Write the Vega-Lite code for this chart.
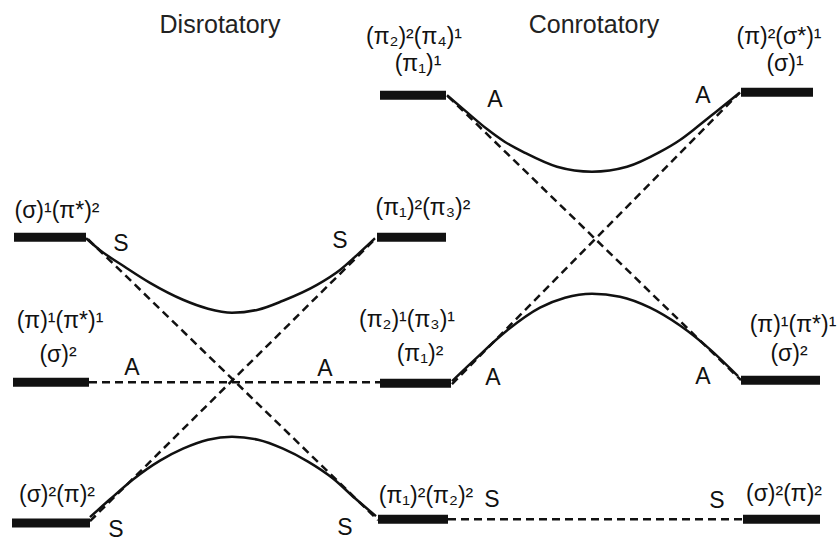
{
  "$schema": "https://vega.github.io/schema/vega-lite/v6.json",
  "width": 839,
  "height": 542,
  "autosize": {"type": "fit", "contains": "padding"},
  "padding": 0,
  "background": "white",
  "config": {"view": {"stroke": null}},
  "datasets": {
    "bars": [
      {"x": 14, "x2": 86, "y": 239},
      {"x": 13, "x2": 89, "y": 385},
      {"x": 12, "x2": 90, "y": 527},
      {"x": 380, "x2": 446, "y": 96},
      {"x": 377, "x2": 446, "y": 239},
      {"x": 380, "x2": 451, "y": 386},
      {"x": 378, "x2": 448, "y": 523},
      {"x": 741, "x2": 813, "y": 93},
      {"x": 741, "x2": 820, "y": 383},
      {"x": 743, "x2": 820, "y": 523}
    ],
    "curves": [
      {"s": "a", "x": 86, "y": 240}, {"s": "a", "x": 100, "y": 252}, {"s": "a", "x": 125, "y": 269},
      {"s": "a", "x": 150, "y": 285}, {"s": "a", "x": 183, "y": 302}, {"s": "a", "x": 208, "y": 311},
      {"s": "a", "x": 232, "y": 315}, {"s": "a", "x": 258, "y": 312}, {"s": "a", "x": 283, "y": 303},
      {"s": "a", "x": 317, "y": 287}, {"s": "a", "x": 340, "y": 272}, {"s": "a", "x": 358, "y": 256},
      {"s": "a", "x": 375, "y": 240},
      {"s": "b", "x": 90, "y": 521}, {"s": "b", "x": 110, "y": 503}, {"s": "b", "x": 133, "y": 483},
      {"s": "b", "x": 160, "y": 464}, {"s": "b", "x": 183, "y": 452}, {"s": "b", "x": 208, "y": 443},
      {"s": "b", "x": 232, "y": 440}, {"s": "b", "x": 258, "y": 443}, {"s": "b", "x": 283, "y": 452},
      {"s": "b", "x": 308, "y": 465}, {"s": "b", "x": 333, "y": 482}, {"s": "b", "x": 355, "y": 502},
      {"s": "b", "x": 376, "y": 520},
      {"s": "c", "x": 447, "y": 96}, {"s": "c", "x": 468, "y": 114}, {"s": "c", "x": 487, "y": 130},
      {"s": "c", "x": 505, "y": 143}, {"s": "c", "x": 525, "y": 154}, {"s": "c", "x": 557, "y": 168},
      {"s": "c", "x": 592, "y": 173}, {"s": "c", "x": 627, "y": 168}, {"s": "c", "x": 660, "y": 153},
      {"s": "c", "x": 680, "y": 141}, {"s": "c", "x": 697, "y": 128}, {"s": "c", "x": 718, "y": 111},
      {"s": "c", "x": 739, "y": 94},
      {"s": "d", "x": 452, "y": 384}, {"s": "d", "x": 475, "y": 362}, {"s": "d", "x": 507, "y": 333},
      {"s": "d", "x": 540, "y": 310}, {"s": "d", "x": 565, "y": 300}, {"s": "d", "x": 592, "y": 296},
      {"s": "d", "x": 620, "y": 299}, {"s": "d", "x": 650, "y": 310}, {"s": "d", "x": 680, "y": 328},
      {"s": "d", "x": 710, "y": 352}, {"s": "d", "x": 738, "y": 379}
    ],
    "dashes": [
      {"s": "1", "x": 88, "y": 241}, {"s": "1", "x": 378, "y": 524},
      {"s": "2", "x": 90, "y": 525}, {"s": "2", "x": 376, "y": 240},
      {"s": "3", "x": 89, "y": 385}, {"s": "3", "x": 380, "y": 385},
      {"s": "4", "x": 448, "y": 97}, {"s": "4", "x": 741, "y": 383},
      {"s": "5", "x": 740, "y": 93}, {"s": "5", "x": 452, "y": 387},
      {"s": "6", "x": 448, "y": 523}, {"s": "6", "x": 743, "y": 523}
    ],
    "labels": [
      {"t": "(σ)¹(π*)²", "x": 57, "y": 213},
      {"t": "(π)¹(π*)¹", "x": 60, "y": 323},
      {"t": "(σ)²", "x": 58, "y": 358},
      {"t": "(σ)²(π)²", "x": 57, "y": 499},
      {"t": "(π₂)²(π₄)¹", "x": 414, "y": 37},
      {"t": "(π₁)¹", "x": 418, "y": 64},
      {"t": "(π₁)²(π₃)²", "x": 423, "y": 210},
      {"t": "(π₂)¹(π₃)¹", "x": 407, "y": 322},
      {"t": "(π₁)²", "x": 420, "y": 357},
      {"t": "(π₁)²(π₂)²", "x": 426, "y": 500},
      {"t": "(π)²(σ*)¹", "x": 779, "y": 37},
      {"t": "(σ)¹", "x": 785, "y": 64},
      {"t": "(π)¹(π*)¹", "x": 793, "y": 327},
      {"t": "(σ)²", "x": 789, "y": 357},
      {"t": "(σ)²(π)²", "x": 784, "y": 498}
    ],
    "titles": [
      {"t": "Disrotatory", "x": 220, "y": 25},
      {"t": "Conrotatory", "x": 594, "y": 25}
    ],
    "sym": [
      {"t": "S", "x": 121, "y": 246},
      {"t": "S", "x": 340, "y": 243},
      {"t": "A", "x": 132, "y": 371},
      {"t": "A", "x": 325, "y": 372},
      {"t": "S", "x": 116, "y": 534},
      {"t": "S", "x": 345, "y": 532},
      {"t": "A", "x": 495, "y": 101},
      {"t": "A", "x": 703, "y": 97},
      {"t": "A", "x": 493, "y": 381},
      {"t": "A", "x": 703, "y": 380},
      {"t": "S", "x": 492, "y": 504},
      {"t": "S", "x": 717, "y": 505}
    ]
  },
  "layer": [
    {
      "data": {"name": "dashes"},
      "mark": {"type": "line", "color": "#111", "strokeWidth": 2.5, "strokeDash": [8, 5]},
      "encoding": {
        "x": {"field": "x", "type": "quantitative", "scale": {"domain": [0, 839], "nice": false, "zero": false}, "axis": null},
        "y": {"field": "y", "type": "quantitative", "scale": {"domain": [0, 542], "nice": false, "zero": false, "reverse": true}, "axis": null},
        "detail": {"field": "s", "type": "nominal"}
      }
    },
    {
      "data": {"name": "curves"},
      "mark": {"type": "line", "color": "#111", "strokeWidth": 2.5, "interpolate": "monotone"},
      "encoding": {
        "x": {"field": "x", "type": "quantitative"},
        "y": {"field": "y", "type": "quantitative"},
        "detail": {"field": "s", "type": "nominal"}
      }
    },
    {
      "data": {"name": "bars"},
      "mark": {"type": "rule", "color": "#111", "strokeWidth": 9},
      "encoding": {
        "x": {"field": "x", "type": "quantitative"},
        "x2": {"field": "x2"},
        "y": {"field": "y", "type": "quantitative"}
      }
    },
    {
      "data": {"name": "labels"},
      "mark": {"type": "text", "font": "Liberation Sans, DejaVu Sans", "fontSize": 23, "color": "#111", "align": "center", "baseline": "middle"},
      "encoding": {
        "x": {"field": "x", "type": "quantitative"},
        "y": {"field": "y", "type": "quantitative"},
        "text": {"field": "t", "type": "nominal"}
      }
    },
    {
      "data": {"name": "titles"},
      "mark": {"type": "text", "font": "Liberation Sans, DejaVu Sans", "fontSize": 25, "color": "#222", "align": "center", "baseline": "middle"},
      "encoding": {
        "x": {"field": "x", "type": "quantitative"},
        "y": {"field": "y", "type": "quantitative"},
        "text": {"field": "t", "type": "nominal"}
      }
    },
    {
      "data": {"name": "sym"},
      "mark": {"type": "text", "font": "Liberation Sans, DejaVu Sans", "fontSize": 23, "color": "#111", "align": "center", "baseline": "middle"},
      "encoding": {
        "x": {"field": "x", "type": "quantitative"},
        "y": {"field": "y", "type": "quantitative"},
        "text": {"field": "t", "type": "nominal"}
      }
    }
  ]
}
